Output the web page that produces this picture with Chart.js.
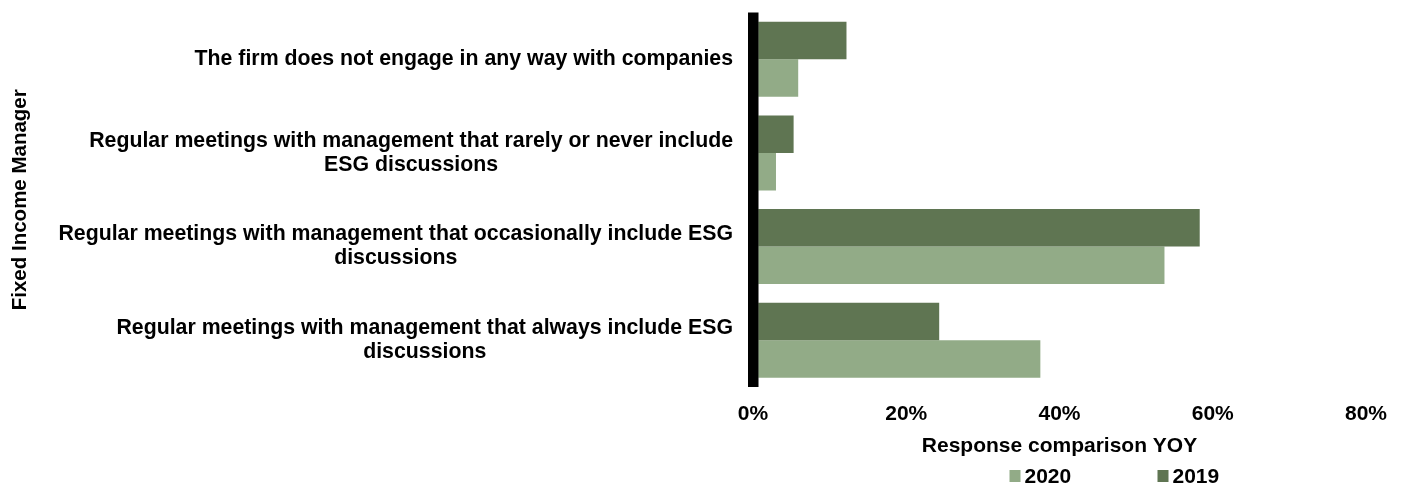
<!DOCTYPE html>
<html>
<head>
<meta charset="utf-8">
<title>Fixed Income Manager engagement</title>
<script src="https://cdn.jsdelivr.net/npm/chart.js@4"></script>
<style>
  html, body { margin: 0; padding: 0; background: #fff; }
  #wrap { width: 1402px; height: 486px; position: relative; }
</style>
</head>
<body>
<div id="wrap"><canvas id="chart"></canvas></div>
<script>
// categories, top to bottom (each entry is a list of wrapped lines)
const categories = [
  ["The firm does not engage in any way with companies"],
  ["Regular meetings with management that rarely or never include", "ESG discussions"],
  ["Regular meetings with management that occasionally include ESG", "discussions"],
  ["Regular meetings with management that always include ESG", "discussions"],
];
const values2019 = [12.2, 5.3, 58.3, 24.3];
const values2020 = [5.9, 3.0, 53.7, 37.5];
const tickValues = [0, 20, 40, 60, 80];

const FONT = '"Liberation Sans", Arial, sans-serif';
const DARK = "#5f7552";
const LIGHT = "#92ab87";

// category labels: block right-aligned to the axis, lines centred inside the block
const categoryLabels = {
  id: "categoryLabels",
  afterDraw(chart) {
    const { ctx, chartArea } = chart;
    const yScale = chart.scales.y;
    ctx.save();
    ctx.font = "bold 21.3px " + FONT;
    ctx.fillStyle = "#000";
    ctx.textAlign = "center";
    ctx.textBaseline = "middle";
    const lh = 24;
    categories.forEach((lines, i) => {
      const y = yScale.getPixelForValue(i);
      const blockW = Math.max(...lines.map((l) => ctx.measureText(l).width));
      const cx = chartArea.left - 20 - blockW / 2;
      lines.forEach((line, j) => {
        ctx.fillText(line, cx, y + (j - (lines.length - 1) / 2) * lh);
      });
    });
    ctx.restore();
  },
};

// legend under the axis title, 2020 first
const bottomLegend = {
  id: "bottomLegend",
  afterDraw(chart) {
    const { ctx, chartArea } = chart;
    const mid = (chartArea.left + chartArea.right) / 2;
    const items = chart.data.datasets.slice().reverse();
    ctx.save();
    ctx.font = "bold 21px " + FONT;
    ctx.textBaseline = "middle";
    ctx.textAlign = "left";
    const y = 476;
    items.forEach((ds, i) => {
      const x = mid - 50 + i * 148;
      ctx.fillStyle = ds.backgroundColor;
      ctx.fillRect(x, y - 6, 11, 12);
      ctx.fillStyle = "#000";
      ctx.fillText(ds.label, x + 15, y + 1);
    });
    ctx.restore();
  },
};

new Chart(document.getElementById("chart"), {
  type: "bar",
  data: {
    labels: categories.map((c) => c.join(" ")),
    datasets: [
      {
        label: "2019",
        data: values2019,
        backgroundColor: DARK,
        barPercentage: 1,
        categoryPercentage: 0.8,
      },
      {
        label: "2020",
        data: values2020,
        backgroundColor: LIGHT,
        barPercentage: 1,
        categoryPercentage: 0.8,
      },
    ],
  },
  options: {
    indexAxis: "y",
    responsive: true,
    maintainAspectRatio: false,
    animation: false,
    layout: {
      padding: { left: 0, right: 36, top: 12.5, bottom: 27 },
    },
    plugins: {
      legend: { display: false },
      tooltip: { enabled: false },
    },
    scales: {
      y: {
        grid: { display: false, drawTicks: false },
        border: { display: false },
        ticks: { display: false },
        title: {
          display: true,
          text: "Fixed Income Manager",
          color: "#000",
          font: { family: FONT, size: 20.5, weight: "bold" },
          padding: { top: 8, bottom: 0 },
        },
        afterFit: (scale) => {
          scale.width = 753; // room for the long category labels
        },
      },
      x: {
        min: 0,
        max: 80,
        // only the zero line is drawn: the heavy black axis, on top of the bars
        grid: {
          display: true,
          drawTicks: false,
          z: 1,
          lineWidth: (ctx) => (ctx.tick && ctx.tick.value === 0 ? 10.5 : 0),
          color: (ctx) => (ctx.tick && ctx.tick.value === 0 ? "#000" : "transparent"),
        },
        border: { display: false },
        afterBuildTicks: (scale) => {
          scale.ticks = tickValues.map((v) => ({ value: v }));
        },
        afterFit: (scale) => {
          scale.height = 72;
        },
        ticks: {
          padding: 14.5,
          color: "#000",
          font: { family: FONT, size: 21, weight: "bold" },
          callback: (v) => v + "%",
        },
        title: {
          display: true,
          text: "Response comparison YOY",
          color: "#000",
          font: { family: FONT, size: 21, weight: "bold" },
          padding: { top: 7, bottom: 0 },
        },
      },
    },
  },
  plugins: [categoryLabels, bottomLegend],
});
</script>
</body>
</html>
